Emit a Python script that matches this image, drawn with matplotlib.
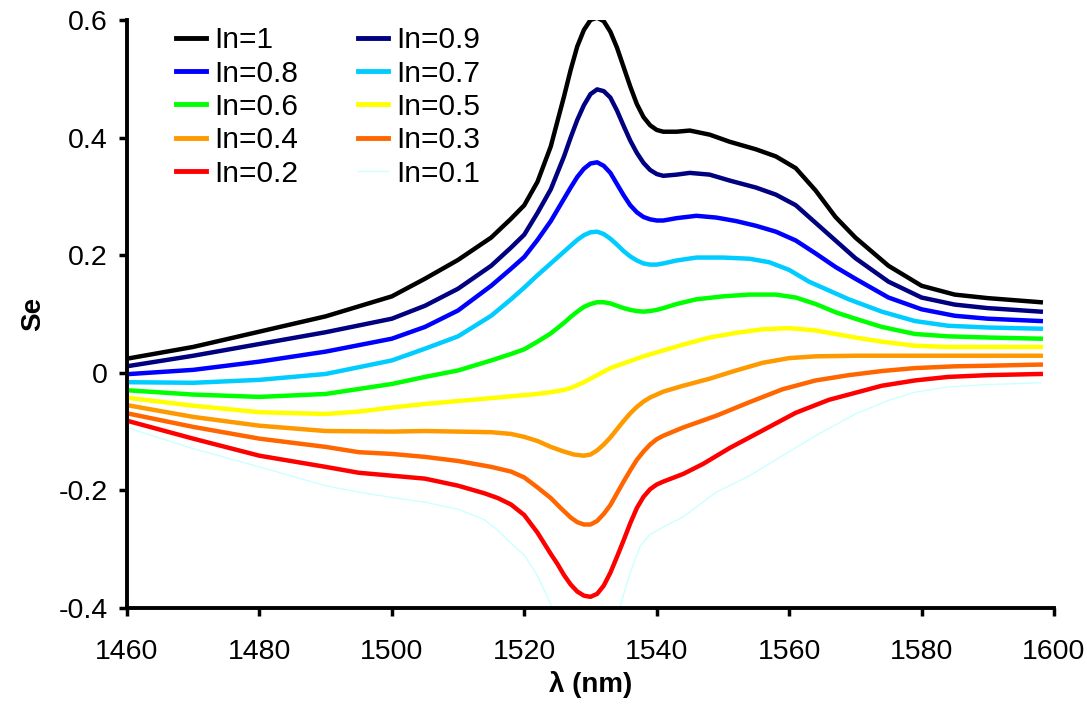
import matplotlib
matplotlib.use('Agg')
import matplotlib.pyplot as plt

plt.rcParams['font.family'] = ['Liberation Sans', 'DejaVu Sans']
plt.rcParams['axes.unicode_minus'] = False

# wavelength (nm) / Se, one pair per In value
lam_10 = [1460.5, 1470, 1480, 1490, 1500, 1505, 1510, 1515, 1518, 1520, 1522, 1524, 1526, 1527, 1528, 1529, 1530, 1531,
          1532, 1533, 1534, 1535, 1536, 1537, 1538, 1539, 1540, 1541, 1543, 1545, 1548, 1551, 1555, 1558, 1561, 1564,
          1567, 1570, 1575, 1580, 1585, 1590, 1598]
se_10 = [0.025, 0.044, 0.070, 0.096, 0.130, 0.160, 0.192, 0.230, 0.262, 0.285, 0.325, 0.385, 0.470, 0.515, 0.555, 0.583, 0.600, 0.604,
         0.598, 0.580, 0.553, 0.520, 0.487, 0.457, 0.435, 0.421, 0.413, 0.410, 0.410, 0.412, 0.405, 0.393, 0.380, 0.368, 0.348, 0.310,
         0.265, 0.230, 0.182, 0.148, 0.133, 0.127, 0.120]

lam_09 = lam_10
se_09 = [0.012, 0.029, 0.049, 0.069, 0.092, 0.114, 0.143, 0.182, 0.213, 0.235, 0.272, 0.312, 0.368, 0.400, 0.430, 0.455, 0.474, 0.482,
         0.479, 0.468, 0.446, 0.420, 0.395, 0.374, 0.357, 0.345, 0.338, 0.335, 0.337, 0.340, 0.337, 0.327, 0.315, 0.303, 0.285, 0.255,
         0.225, 0.195, 0.155, 0.128, 0.116, 0.110, 0.104]

lam_08 = [1460.5, 1470, 1480, 1490, 1500, 1505, 1510, 1515, 1518, 1520, 1522, 1524, 1526, 1527, 1528, 1529, 1530, 1531,
          1532, 1533, 1534, 1535, 1536, 1537, 1538, 1539, 1540, 1541, 1543, 1546, 1549, 1552, 1555, 1558, 1561, 1564,
          1567, 1570, 1575, 1580, 1585, 1590, 1598]
se_08 = [-0.002, 0.005, 0.019, 0.036, 0.058, 0.078, 0.106, 0.148, 0.177, 0.197, 0.226, 0.258, 0.296, 0.315, 0.333, 0.347, 0.356, 0.358,
         0.352, 0.340, 0.321, 0.302, 0.285, 0.273, 0.265, 0.261, 0.259, 0.259, 0.263, 0.267, 0.264, 0.258, 0.250, 0.240, 0.225, 0.203,
         0.180, 0.160, 0.128, 0.108, 0.097, 0.092, 0.088]

lam_07 = [1460.5, 1470, 1480, 1490, 1500, 1505, 1510, 1515, 1518, 1520, 1522, 1524, 1526, 1527, 1528, 1529, 1530, 1531,
          1532, 1533, 1534, 1535, 1536, 1537, 1538, 1539, 1540, 1541, 1543, 1546, 1550, 1554, 1557, 1560, 1563, 1566,
          1569, 1574, 1579, 1584, 1590, 1598]
se_07 = [-0.016, -0.017, -0.012, -0.002, 0.021, 0.041, 0.062, 0.097, 0.125, 0.145, 0.166, 0.186, 0.206, 0.216, 0.226, 0.234, 0.239, 0.240,
         0.236, 0.228, 0.218, 0.207, 0.198, 0.191, 0.186, 0.184, 0.184, 0.186, 0.191, 0.196, 0.196, 0.194, 0.188, 0.175, 0.155, 0.140,
         0.125, 0.104, 0.088, 0.080, 0.077, 0.075]

lam_06 = [1460.5, 1470, 1480, 1490, 1500, 1505, 1510, 1515, 1518, 1520, 1522, 1524, 1526, 1527, 1528, 1529, 1530, 1531,
          1532, 1533, 1534, 1535, 1536, 1537, 1538, 1539, 1540, 1541, 1543, 1546, 1550, 1554, 1558, 1561, 1564, 1567,
          1570, 1574, 1579, 1584, 1590, 1598]
se_06 = [-0.030, -0.037, -0.041, -0.036, -0.019, -0.007, 0.004, 0.021, 0.032, 0.040, 0.053, 0.067, 0.085, 0.095, 0.104, 0.112, 0.117, 0.120,
         0.120, 0.118, 0.114, 0.110, 0.107, 0.105, 0.104, 0.105, 0.107, 0.110, 0.117, 0.125, 0.130, 0.133, 0.133, 0.128, 0.117, 0.103,
         0.092, 0.078, 0.066, 0.062, 0.060, 0.058]

lam_05 = [1460.5, 1470, 1480, 1490, 1495, 1500, 1505, 1510, 1515, 1520, 1522, 1524, 1526, 1527, 1528, 1529, 1530, 1531,
          1532, 1533, 1534, 1535, 1536, 1538, 1541, 1544, 1548, 1552, 1556, 1560, 1564, 1567, 1570, 1574, 1579, 1584,
          1590, 1598]
se_05 = [-0.043, -0.056, -0.067, -0.070, -0.066, -0.059, -0.053, -0.048, -0.043, -0.038, -0.036, -0.033, -0.029, -0.026, -0.021, -0.016, -0.010, -0.004,
         0.002, 0.008, 0.012, 0.016, 0.020, 0.028, 0.038, 0.048, 0.060, 0.068, 0.074, 0.076, 0.072, 0.066, 0.060, 0.053, 0.046, 0.044,
         0.044, 0.044]

lam_04 = [1460.5, 1470, 1480, 1490, 1500, 1505, 1510, 1515, 1518, 1520, 1522, 1524, 1526, 1527.5, 1529, 1530, 1531, 1532,
          1533, 1534, 1535, 1536, 1537, 1538, 1539, 1541, 1544, 1548, 1552, 1556, 1560, 1564, 1570, 1580, 1590, 1598]
se_04 = [-0.056, -0.075, -0.090, -0.099, -0.100, -0.099, -0.100, -0.101, -0.104, -0.109, -0.116, -0.126, -0.134, -0.139, -0.141, -0.139, -0.132, -0.122,
         -0.110, -0.096, -0.082, -0.069, -0.058, -0.049, -0.042, -0.032, -0.022, -0.010, 0.004, 0.017, 0.025, 0.028, 0.029, 0.029, 0.029, 0.029]

lam_03 = [1460.5, 1470, 1480, 1490, 1495, 1500, 1505, 1510, 1515, 1518, 1520, 1522, 1524, 1525.5, 1527, 1528, 1529, 1530,
          1531, 1532, 1533, 1534, 1535, 1536, 1537, 1538, 1539, 1540, 1541, 1544, 1549, 1554, 1559, 1564, 1569, 1574,
          1579, 1585, 1590, 1598]
se_03 = [-0.070, -0.092, -0.112, -0.126, -0.135, -0.138, -0.143, -0.150, -0.160, -0.168, -0.178, -0.195, -0.213, -0.230, -0.246, -0.254, -0.258, -0.258,
         -0.252, -0.240, -0.225, -0.205, -0.185, -0.166, -0.148, -0.134, -0.122, -0.113, -0.107, -0.093, -0.073, -0.050, -0.028, -0.013, -0.004, 0.003,
         0.008, 0.011, 0.012, 0.014]

lam_02 = [1460.5, 1470, 1480, 1490, 1495, 1500, 1505, 1510, 1514, 1516, 1518, 1520, 1522, 1523, 1524, 1525, 1526, 1527,
          1528, 1529, 1530, 1531, 1532, 1533, 1534, 1535, 1536, 1537, 1538, 1539, 1540, 1541, 1544, 1547, 1551, 1556,
          1561, 1566, 1570, 1574, 1579, 1584, 1590, 1598]
se_02 = [-0.083, -0.112, -0.141, -0.160, -0.170, -0.175, -0.180, -0.192, -0.205, -0.213, -0.224, -0.242, -0.272, -0.290, -0.308, -0.325, -0.344, -0.360,
         -0.372, -0.379, -0.381, -0.376, -0.362, -0.340, -0.313, -0.285, -0.256, -0.230, -0.211, -0.198, -0.190, -0.185, -0.172, -0.155, -0.128, -0.098,
         -0.068, -0.046, -0.034, -0.022, -0.013, -0.007, -0.004, -0.002]

lam_01 = [1460.5, 1470, 1480, 1490, 1495, 1500, 1505, 1510, 1514, 1516, 1518, 1520, 1522, 1524, 1526, 1529.5, 1533, 1534.5,
          1536, 1537.5, 1539, 1541, 1544, 1549, 1554, 1559, 1564, 1570, 1575, 1579, 1584, 1590, 1598]
se_01 = [-0.095, -0.129, -0.160, -0.192, -0.203, -0.212, -0.220, -0.232, -0.250, -0.268, -0.290, -0.310, -0.345, -0.394, -0.460, -0.520, -0.460, -0.396,
         -0.340, -0.295, -0.275, -0.262, -0.245, -0.203, -0.175, -0.141, -0.107, -0.070, -0.047, -0.033, -0.024, -0.020, -0.017]

labels = ['In=1', 'In=0.9', 'In=0.8', 'In=0.7', 'In=0.6', 'In=0.5', 'In=0.4', 'In=0.3', 'In=0.2', 'In=0.1']
colors = ['#000000', '#000080', '#0000FF', '#00CCFF', '#00FF00', '#FFFF00', '#FF9900', '#FF6600', '#FF0000', '#CCFFFF']

x_ticks = [1460, 1480, 1500, 1520, 1540, 1560, 1580, 1600]
y_ticks = [-0.4, -0.2, 0, 0.2, 0.4, 0.6]
y_tick_labels = ['-0.4', '-0.2', '0', '0.2', '0.4', '0.6']

series = [(lam_10, se_10), (lam_09, se_09), (lam_08, se_08), (lam_07, se_07), (lam_06, se_06),
          (lam_05, se_05), (lam_04, se_04), (lam_03, se_03), (lam_02, se_02), (lam_01, se_01)]

fig = plt.figure(figsize=(10.87, 7.08), dpi=100)
ax = fig.add_axes([127/1087, 1-608/708, (1054-127)/1087, (608-20)/708])

handles = []
for (lam, se), lab, col in zip(series, labels, colors):
    lw = 1.0 if lab == 'In=0.1' else 3.2
    h, = ax.plot(lam, se, color=col, lw=lw, label=lab, solid_joinstyle='round')
    handles.append(h)

ax.set_xlim(1460, 1600)
ax.set_ylim(-0.4, 0.6)
ax.set_xticks(x_ticks)
ax.set_yticks(y_ticks)
ax.set_yticklabels(y_tick_labels)
ax.tick_params(direction='out', length=6, width=2.5, labelsize=20.5)
ax.tick_params(axis='x', pad=16)
ax.tick_params(axis='y', pad=8)

for s in ['top', 'right']:
    ax.spines[s].set_visible(False)
for s in ['left', 'bottom']:
    ax.spines[s].set_linewidth(2.8)

ax.set_xlabel('λ (nm)', fontsize=20, fontweight='bold', labelpad=5)
ax.set_ylabel('Se', fontsize=20, fontweight='bold', labelpad=9)

# two columns filled row by row like the original
order = [0, 2, 4, 6, 8, 1, 3, 5, 7, 9]
leg = ax.legend([handles[i] for i in order], [labels[i] for i in order], ncol=2, frameon=False,
                loc='upper left', bbox_to_anchor=(0.034, 1.02), fontsize=21.5,
                handlelength=1.0, handletextpad=0.27, columnspacing=2.0, labelspacing=0.18, borderaxespad=0.2)
for line in leg.get_lines():
    if line.get_linewidth() > 2:
        line.set_linewidth(3.5)

fig.savefig('out.png', dpi=100)
